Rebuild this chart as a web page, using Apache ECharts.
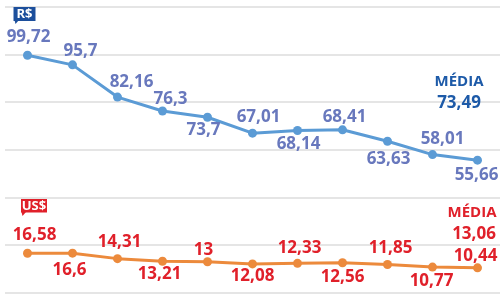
<!DOCTYPE html>
<html>
<head>
<meta charset="utf-8">
<script src="https://cdn.jsdelivr.net/npm/echarts@6/dist/echarts.min.js"></script>
<style>
html,body{margin:0;padding:0;background:#fff;}
#chart{width:500px;height:299px;}
</style>
</head>
<body>
<div id="chart"></div>
<script>
// ---- data ----
const categories = ['1','2','3','4','5','6','7','8','9','10','11'];
const brlValues = [99.72, 95.7, 82.16, 76.3, 73.7, 67.01, 68.14, 68.41, 63.63, 58.01, 55.66];
const usdValues = [16.58, 16.6, 14.31, 13.21, 13, 12.08, 12.33, 12.56, 11.85, 10.77, 10.44];
const brlAverage = 73.49;
const usdAverage = 13.06;
const yTicks = [0, 20, 40, 60, 80, 100, 120];

// ---- label placement (style) ----
const brlOffsets = [[1,-18],[8,-14],[14,-15],[8,-12],[-4,12.5],[6,-16],[1,14],[2,-13],[1,18],[10,-15],[-1,15]];
const usdOffsets = [[7,-18],[-3,17],[2,-16],[-3,13],[-4,-12],[0,12.5],[2,-15],[0,14],[3,-16.5],[-1,14],[-2,-12]];

const fmt = v => String(v).replace('.', ',');
const FONT = '"Open Sans", "DejaVu Sans", sans-serif';

function buildData(values, offsets, color) {
  return values.map((v, i) => ({
    value: v,
    label: {
      show: true,
      position: 'inside',
      offset: offsets[i],
      formatter: fmt(v),
      color: color,
      fontFamily: FONT,
      fontWeight: 'bold',
      fontSize: 17,
      align: 'center',
      verticalAlign: 'middle'
    }
  }));
}

const chart = echarts.init(document.getElementById('chart'), null, {renderer: 'canvas'});
chart.setOption({
  animation: false,
  backgroundColor: '#ffffff',
  grid: {left: 5, right: 0, top: 7, bottom: 6.3},
  xAxis: {
    type: 'category',
    data: categories,
    boundaryGap: true,
    axisLine: {show: false},
    axisTick: {show: false},
    axisLabel: {show: false},
    splitLine: {show: false}
  },
  yAxis: {
    type: 'value',
    min: yTicks[0],
    max: yTicks[yTicks.length - 1],
    interval: yTicks[1] - yTicks[0],
    axisLine: {show: false},
    axisTick: {show: false},
    axisLabel: {show: false},
    splitLine: {show: true, lineStyle: {color: '#dcdcdc', width: 1.5}}
  },
  series: [
    {
      type: 'line',
      data: buildData(brlValues, brlOffsets, '#6878bd'),
      symbol: 'circle',
      symbolSize: 9,
      lineStyle: {color: '#5b9bd5', width: 3},
      itemStyle: {color: '#5b9bd5'},
      z: 3
    },
    {
      type: 'line',
      data: buildData(usdValues, usdOffsets, '#e0202a'),
      symbol: 'circle',
      symbolSize: 9,
      lineStyle: {color: '#ec8a3c', width: 3},
      itemStyle: {color: '#ec8a3c'},
      z: 3
    }
  ],
  graphic: [
    // R$ badge
    {type: 'rect', shape: {x: 13.5, y: 7, width: 22, height: 14}, style: {fill: '#1c4f9c'}, z: 10},
    {type: 'polygon', shape: {points: [[14.5, 20], [19, 20], [15.5, 24]]}, style: {fill: '#1c4f9c'}, z: 10},
    {type: 'text', x: 24.5, y: 14.3, style: {text: 'R$', fill: '#ffffff', font: 'bold 13px ' + FONT, textAlign: 'center', textVerticalAlign: 'middle'}, z: 11},
    // US$ badge
    {type: 'rect', shape: {x: 21, y: 199, width: 26, height: 13.5}, style: {fill: '#e0202a'}, z: 10},
    {type: 'polygon', shape: {points: [[21.5, 212], [26, 212], [22.5, 216]]}, style: {fill: '#e0202a'}, z: 10},
    {type: 'text', x: 34, y: 206, style: {text: 'US$', fill: '#ffffff', font: 'bold 13px ' + FONT, textAlign: 'center', textVerticalAlign: 'middle'}, z: 11},
    // averages
    {type: 'text', x: 459, y: 82, style: {text: 'MÉDIA', fill: '#1d5aa8', font: 'bold 15px ' + FONT, textAlign: 'center', textVerticalAlign: 'middle'}, z: 11},
    {type: 'text', x: 459, y: 103.5, style: {text: fmt(brlAverage), fill: '#1d5aa8', font: 'bold 17px ' + FONT, textAlign: 'center', textVerticalAlign: 'middle'}, z: 11},
    {type: 'text', x: 472, y: 213, style: {text: 'MÉDIA', fill: '#e0202a', font: 'bold 15px ' + FONT, textAlign: 'center', textVerticalAlign: 'middle'}, z: 11},
    {type: 'text', x: 474, y: 234, style: {text: fmt(usdAverage), fill: '#e0202a', font: 'bold 17px ' + FONT, textAlign: 'center', textVerticalAlign: 'middle'}, z: 11}
  ]
});
</script>
</body>
</html>
